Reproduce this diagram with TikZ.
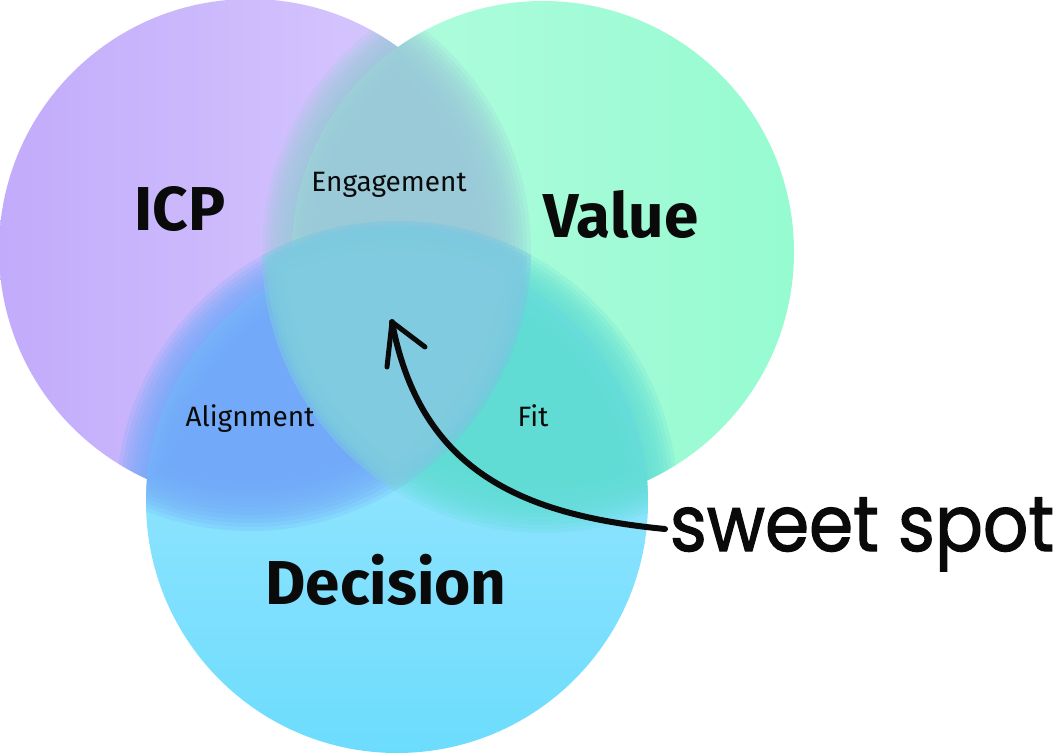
\documentclass[tikz,border=0pt]{standalone}
\usepackage{fontspec}
\setmainfont{Fira Sans}
\newfontfamily\handfont[FakeBold=1.6]{Poppins}
\definecolor{icpL}{HTML}{C2ABFB}
\definecolor{icpR}{HTML}{DACDFE}
\definecolor{valL}{HTML}{B4FCE0}
\definecolor{valR}{HTML}{96FBD0}
\definecolor{decT}{HTML}{A9EAFF}
\definecolor{decB}{HTML}{6CDCFD}
\definecolor{colAB}{HTML}{9AC9D8}
\definecolor{colAC}{HTML}{72A9F9}
\definecolor{colBC}{HTML}{60DCD4}
\definecolor{colABC}{HTML}{84CFE0}
\definecolor{ink}{HTML}{0A0A0A}
\begin{document}
\begin{tikzpicture}[x=1pt,y=-1pt,
  biglabel/.style={anchor=base, text=ink, font=\fontsize{62}{62}\selectfont\bfseries, inner sep=0pt},
  smalllabel/.style={anchor=base, text=ink, font=\fontsize{28}{28}\selectfont, inner sep=0pt},
  handlabel/.style={anchor=base, text=ink, font=\handfont\fontsize{78}{78}\selectfont, inner sep=0pt},
  pen/.style={draw=ink, line width=6pt, line cap=round, line join=round},
  softlayer/.style={opacity=0.2}]
\useasboundingbox (0,0) rectangle (1059,754);
\coordinate (A) at (250,250);
\coordinate (B) at (543,252);
\coordinate (C) at (397,502);
\def\R{251}
\begin{scope}
  \clip (A) circle[radius=\R] (B) circle[radius=\R] (C) circle[radius=\R];
  \shade[left color=icpL, right color=icpR] (A) circle[radius=\R];
  \shade[left color=valL, right color=valR] (B) circle[radius=\R];
  \shade[top color=decT, bottom color=decB] (C) circle[radius=\R];
  % pairwise overlaps, soft edges built from stacked translucent layers
  \foreach \d in {-30,-26,...,30} {
    \begin{scope}
      \clip (A) circle[radius={\R+(\d)}];
      \fill[colAB, softlayer] (B) circle[radius={\R+(\d)}];
    \end{scope}
    \begin{scope}
      \clip (A) circle[radius={\R+(\d)}];
      \fill[colAC, softlayer] (C) circle[radius={\R+(\d)}];
    \end{scope}
    \begin{scope}
      \clip (B) circle[radius={\R+(\d)}];
      \fill[colBC, softlayer] (C) circle[radius={\R+(\d)}];
    \end{scope}
  }
  \foreach \d in {-30,-26,...,30} {
    \begin{scope}
      \clip (A) circle[radius={\R+(\d)}];
      \clip (B) circle[radius={\R+(\d)}];
      \fill[colABC, softlayer] (C) circle[radius={\R+(\d)}];
    \end{scope}
  }
\end{scope}
% labels
\node[biglabel] (icp) at (180,230) {ICP};
\node[biglabel] (value) at (621,237) {Value};
\node[biglabel] (decision) at (386,604) {Decision};
\node[smalllabel] (engagement) at (389,191) {Engagement};
\node[smalllabel] (alignment) at (250,426) {Alignment};
\node[smalllabel] (fit) at (533,426) {Fit};
\node[handlabel] (sweet) at (862,551) {\scalebox{0.91}[1]{sweet spot}};
% arrow
\coordinate (tail) at (665,529);
\coordinate (tip) at (392,322);
\coordinate (barbL) at (387,367);
\coordinate (barbR) at (425,347);
\draw[pen] (tail) .. controls (520,515) and (420,470) .. (tip);
\draw[pen, line width=5pt] (barbL) -- (tip) -- (barbR);
\end{tikzpicture}
\end{document}
